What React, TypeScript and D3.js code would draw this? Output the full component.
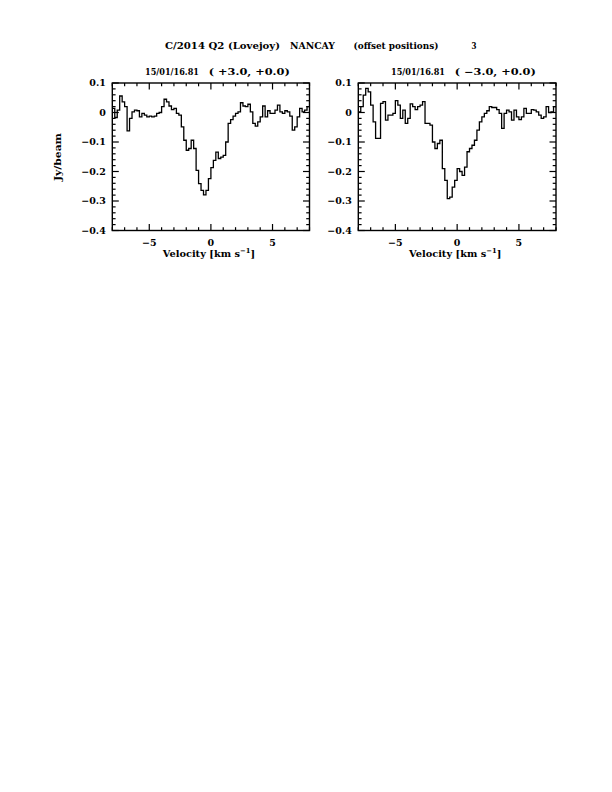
import React from "react";
import * as d3 from "d3";

// channel grid (km/s)
const V_START = -7.9;
const V_STEP = 0.2;

// Panel 1: offset (+3.0, +0.0)
const fluxLeft = [
  0.014, -0.017, 0.008, 0.056, 0.036, 0.02, -0.062, -0.02, 0.002, 0.008,
  0.006, -0.015, -0.003, -0.009, -0.015, -0.012, -0.015, -0.012, -0.003, 0.0,
  0.02, 0.045, 0.036, 0.022, 0.01, 0.014, -0.003, -0.009, -0.049, -0.094,
  -0.128, -0.122, -0.094, -0.122, -0.196, -0.241, -0.264, -0.279, -0.264, -0.224,
  -0.187, -0.162, -0.134, -0.156, -0.151, -0.145, -0.1, -0.037, -0.024, -0.012,
  -0.003, 0.002, 0.033, 0.022, 0.02, 0.028, 0.002, -0.037, -0.046, -0.032,
  -0.015, 0.022, -0.015, 0.006, -0.003, -0.003, 0.008, 0.025, 0.002, -0.003,
  0.006, 0.002, -0.012, -0.06, -0.049, -0.015, 0.014, 0.002, 0.008, 0.02,
];

// Panel 2: offset (-3.0, +0.0)
const fluxRight = [
  0.002, 0.02, 0.059, 0.082, 0.07, 0.025, -0.032, -0.088, -0.088, 0.031,
  0.037, -0.026, -0.009, -0.009, -0.003, 0.04, 0.025, -0.02, 0.008, -0.037,
  -0.02, 0.029, 0.02, 0.01, 0.02, 0.025, 0.037, -0.037, -0.037, -0.043,
  -0.1, -0.122, -0.105, -0.094, -0.19, -0.23, -0.292, -0.287, -0.253, -0.23,
  -0.19, -0.2, -0.213, -0.185, -0.133, -0.122, -0.111, -0.094, -0.06, -0.032,
  -0.015, -0.003, 0.006, 0.02, 0.017, 0.017, 0.01, -0.003, -0.054, -0.003,
  0.008, 0.002, -0.026, 0.008, -0.015, -0.024, -0.015, 0.014, -0.003, -0.003,
  0.01, 0.008, 0.002, -0.009, -0.02, -0.015, 0.02, 0.0, 0.002, 0.02,
];

const panelTitles = [
  ["15/01/16.81", "( +3.0, +0.0)"],
  ["15/01/16.81", "( \u22123.0, +0.0)"],
];

const xDomain = [-8, 8];
const yDomain = [-0.4, 0.1];
const xMajorTicks = [-5, 0, 5];
const xTickLabels = ["\u22125", "0", "5"];
const yMajorTicks = [0.1, 0, -0.1, -0.2, -0.3, -0.4];
const yTickLabels = ["0.1", "0", "\u22120.1", "\u22120.2", "\u22120.3", "\u22120.4"];

const FONT = "'DejaVu Serif', 'Liberation Serif', serif";

const TOP = 83;
const BOTTOM = 230.5;
const panels = [
  { left: 112.3, right: 309.5, flux: fluxLeft, titles: panelTitles[0], yAxisLabel: true },
  { left: 358.3, right: 556, flux: fluxRight, titles: panelTitles[1], yAxisLabel: false },
];

function Panel({ p }: { p: (typeof panels)[number] }) {
  const x = d3.scaleLinear().domain(xDomain).range([p.left, p.right]);
  const y = d3.scaleLinear().domain(yDomain).range([BOTTOM, TOP]);
  const pts: [number, number][] = p.flux.map((f, i) => [V_START + V_STEP * i - V_STEP / 2, f]);
  pts.push([V_START + V_STEP * (p.flux.length - 1) + V_STEP / 2, p.flux[p.flux.length - 1]]);
  const line = d3
    .line<[number, number]>()
    .x((d) => x(Math.max(xDomain[0], Math.min(xDomain[1], d[0]))))
    .y((d) => y(d[1]))
    .curve(d3.curveStepAfter);

  const xMinor = d3.range(-8, 8.001, 1).filter((v) => !xMajorTicks.includes(v));
  const yMinor = d3.range(-0.4, 0.1001, 0.02).filter(
    (v) => !yMajorTicks.some((m) => Math.abs(m - v) < 1e-6)
  );
  const MAJ = 6.5;
  const MIN = 3.3;
  const ticks: JSX.Element[] = [];
  xMajorTicks.forEach((v, i) => {
    ticks.push(<line key={"xb" + i} x1={x(v)} x2={x(v)} y1={BOTTOM} y2={BOTTOM - MAJ} />);
    ticks.push(<line key={"xt" + i} x1={x(v)} x2={x(v)} y1={TOP} y2={TOP + MAJ} />);
  });
  xMinor.forEach((v, i) => {
    ticks.push(<line key={"xbm" + i} x1={x(v)} x2={x(v)} y1={BOTTOM} y2={BOTTOM - MIN} />);
    ticks.push(<line key={"xtm" + i} x1={x(v)} x2={x(v)} y1={TOP} y2={TOP + MIN} />);
  });
  yMajorTicks.forEach((v, i) => {
    ticks.push(<line key={"yl" + i} x1={p.left} x2={p.left + MAJ} y1={y(v)} y2={y(v)} />);
    ticks.push(<line key={"yr" + i} x1={p.right} x2={p.right - MAJ} y1={y(v)} y2={y(v)} />);
  });
  yMinor.forEach((v, i) => {
    ticks.push(<line key={"ylm" + i} x1={p.left} x2={p.left + MIN} y1={y(v)} y2={y(v)} />);
    ticks.push(<line key={"yrm" + i} x1={p.right} x2={p.right - MIN} y1={y(v)} y2={y(v)} />);
  });

  return (
    <g>
      <g stroke="#000" strokeWidth={1.2}>{ticks}</g>
      <path d={line(pts) || ""} fill="none" stroke="#000" strokeWidth={1.3} />
      <rect
        x={p.left}
        y={TOP}
        width={p.right - p.left}
        height={BOTTOM - TOP}
        fill="none"
        stroke="#000"
        strokeWidth={1.4}
      />
      {xMajorTicks.map((v, i) => (
        <text key={"xl" + i} x={x(v)} y={246} textAnchor="middle" fontSize={9.5} fontWeight="bold">
          {xTickLabels[i]}
        </text>
      ))}
      {yMajorTicks.map((v, i) => (
        <text
          key={"ylb" + i}
          x={p.left - 6.5}
          y={y(v) + 3.4}
          textAnchor="end"
          fontSize={9.5}
          fontWeight="bold"
        >
          {yTickLabels[i]}
        </text>
      ))}
      <text
        x={p.left + 32.7}
        y={75}
        fontSize={9}
        fontWeight="bold"
        textLength={54}
        lengthAdjust="spacingAndGlyphs"
      >
        {p.titles[0]}
      </text>
      <text
        x={p.left + 96.5}
        y={75}
        fontSize={9}
        fontWeight="bold"
        textLength={81}
        lengthAdjust="spacingAndGlyphs"
      >
        {p.titles[1]}
      </text>
      <text x={(p.left + p.right) / 2 - 2} y={256.5} textAnchor="middle" fontSize={9.8} fontWeight="bold">
        Velocity [km s
        <tspan dy={-3.8} fontSize={6.8}>
          {"\u22121"}
        </tspan>
        <tspan dy={3.8}>]</tspan>
      </text>
      {p.yAxisLabel && (
        <text
          transform={`translate(61,157) rotate(-90)`}
          textAnchor="middle"
          fontSize={9.5}
          fontWeight="bold"
          textLength={48}
          lengthAdjust="spacingAndGlyphs"
        >
          Jy/beam
        </text>
      )}
    </g>
  );
}

export default function App() {
  return (
    <svg
      width={612}
      height={792}
      style={{ position: "absolute", left: 0, top: 0, background: "#fff" }}
      fontFamily={FONT}
    >
      <rect x={0} y={0} width={612} height={792} fill="#fff" />
      <g fontSize={9.5} fontWeight="bold">
        <text x={165} y={48.5} textLength={115} lengthAdjust="spacingAndGlyphs">
          C/2014 Q2 (Lovejoy)
        </text>
        <text x={290} y={48.5} textLength={45} lengthAdjust="spacingAndGlyphs">
          NANCAY
        </text>
        <text x={353.5} y={48.5} textLength={85} lengthAdjust="spacingAndGlyphs">
          (offset positions)
        </text>
        <text x={471.5} y={48.5} textLength={5} lengthAdjust="spacingAndGlyphs">
          3
        </text>
      </g>
      {panels.map((p, i) => (
        <Panel key={i} p={p} />
      ))}
    </svg>
  );
}
